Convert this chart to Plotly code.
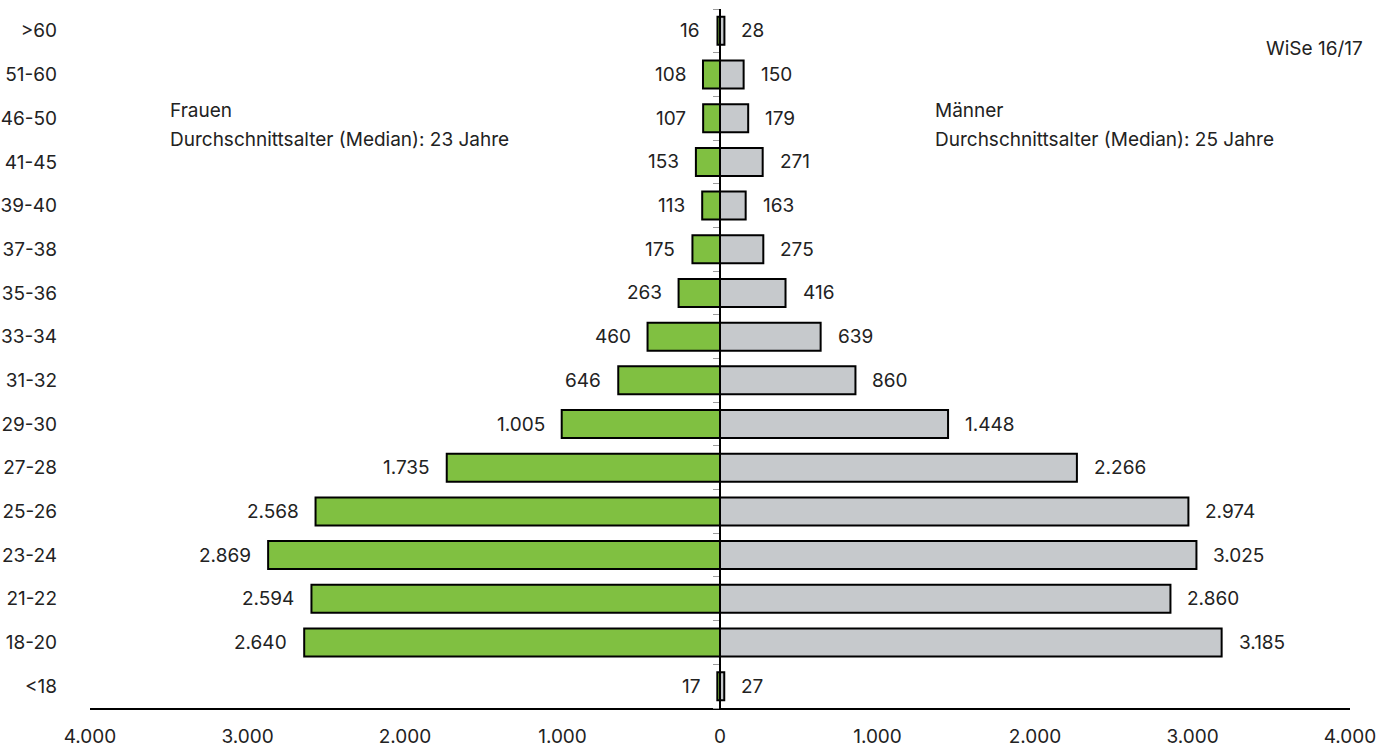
import html
import plotly.graph_objects as go

categories = ["<18", "18-20", "21-22", "23-24", "25-26", "27-28", "29-30", "31-32",
              "33-34", "35-36", "37-38", "39-40", "41-45", "46-50", "51-60", ">60"]
frauen = [17, 2640, 2594, 2869, 2568, 1735, 1005, 646, 460, 263, 175, 113, 153, 107, 108, 16]
maenner = [27, 3185, 2860, 3025, 2974, 2266, 1448, 860, 639, 416, 275, 163, 271, 179, 150, 28]
x_ticks = [-4000, -3000, -2000, -1000, 0, 1000, 2000, 3000, 4000]

FONT = "Inter"
FS = 19
TXT = "#222222"
GREEN = "#80c041"
GREY = "#c6c9cc"


def de(v):
    return f"{abs(v):,}".replace(",", ".")


ypos = list(range(len(categories)))

fig = go.Figure()
fig.add_trace(go.Bar(
    y=ypos, x=[-v for v in frauen], orientation="h", width=0.64,
    marker=dict(color=GREEN, line=dict(color="black", width=2)),
    showlegend=False, hoverinfo="skip"))
fig.add_trace(go.Bar(
    y=ypos, x=maenner, orientation="h", width=0.64,
    marker=dict(color=GREY, line=dict(color="black", width=2)),
    showlegend=False, hoverinfo="skip"))
# invisible trace to host the central axis
fig.add_trace(go.Scatter(x=[None], y=[None], yaxis="y2", showlegend=False, hoverinfo="skip"))

txt_font = dict(family=FONT, size=FS, color=TXT)
annotations = []
for i, v in enumerate(frauen):
    annotations.append(dict(x=-v, y=i, text=de(v), xanchor="right", yanchor="middle",
                            xshift=-15, showarrow=False, font=txt_font))
for i, v in enumerate(maenner):
    annotations.append(dict(x=v, y=i, text=de(v), xanchor="left", yanchor="middle",
                            xshift=15, showarrow=False, font=txt_font))

annotations += [
    dict(xref="paper", yref="paper", x=0.062, y=0.855, text="Frauen", xanchor="left",
         yanchor="middle", showarrow=False, font=txt_font),
    dict(xref="paper", yref="paper", x=0.062, y=0.814, text="Durchschnittsalter (Median): 23 Jahre",
         xanchor="left", yanchor="middle", showarrow=False, font=txt_font),
    dict(xref="paper", yref="paper", x=0.669, y=0.855, text="Männer", xanchor="left",
         yanchor="middle", showarrow=False, font=txt_font),
    dict(xref="paper", yref="paper", x=0.669, y=0.814, text="Durchschnittsalter (Median): 25 Jahre",
         xanchor="left", yanchor="middle", showarrow=False, font=txt_font),
    dict(xref="paper", yref="paper", x=1.012, y=0.944, text="WiSe 16/17", xanchor="right",
         yanchor="middle", showarrow=False, font=txt_font),
]

yrange = [-0.5, len(categories) - 0.5]

fig.update_layout(
    width=1397, height=747,
    margin=dict(l=90, r=47, t=9, b=39),
    paper_bgcolor="white", plot_bgcolor="white",
    barmode="overlay",
    font=txt_font,
    annotations=annotations,
    xaxis=dict(
        range=[-4000, 4000], tickvals=x_ticks, ticktext=[de(v) for v in x_ticks],
        showgrid=False, zeroline=False, showline=True, linecolor="black", linewidth=1.5,
        ticks="", ticklabelstandoff=10, tickfont=txt_font, automargin=False,
        fixedrange=True),
    yaxis=dict(
        range=yrange, tickvals=ypos, ticktext=[html.escape(c) for c in categories],
        showgrid=False, zeroline=False, showline=False, ticks="",
        ticklabelstandoff=32, tickfont=txt_font, automargin=False,
        fixedrange=True),
    yaxis2=dict(
        overlaying="y", anchor="free", position=0.5, side="left", range=yrange,
        showline=True, linecolor="black", linewidth=1.5, showgrid=False, zeroline=False,
        ticks="outside", tickvals=[i - 0.5 for i in range(len(categories) + 1)],
        ticklen=6, tickwidth=1, tickcolor="#9a9a9a", showticklabels=False,
        automargin=False, fixedrange=True),
)

fig.write_html("out.html")
